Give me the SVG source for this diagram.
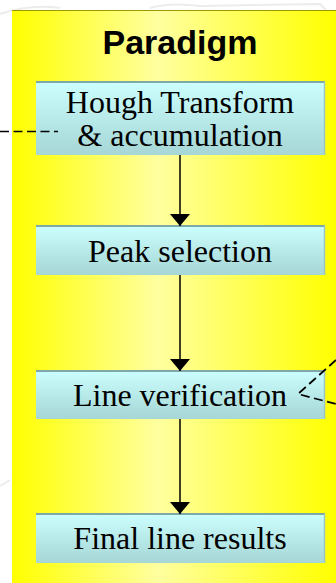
<svg xmlns="http://www.w3.org/2000/svg" width="336" height="583" viewBox="0 0 336 583">
  <defs>
    <linearGradient id="panelGrad" x1="0" y1="0" x2="1" y2="0">
      <stop offset="0" stop-color="#ffff00"/>
      <stop offset="0.45" stop-color="#ffffa0"/>
      <stop offset="1" stop-color="#ffff00"/>
    </linearGradient>
    <linearGradient id="boxGrad" x1="0" y1="0" x2="0" y2="1">
      <stop offset="0" stop-color="#ccffff"/>
      <stop offset="1" stop-color="#a6d6d6"/>
    </linearGradient>
    <marker id="arrow" viewBox="0 0 12 20" refX="12" refY="10" markerWidth="12" markerHeight="20" markerUnits="userSpaceOnUse" orient="auto">
      <path d="M0,0 L12,10 L0,20 Z" fill="#000"/>
    </marker>
  </defs>
  <style>
    .box { fill: url(#boxGrad); }
    .boxTop { stroke: #7fa8a8; stroke-width: 2; }
    .boxRight { stroke: #9cc4c4; stroke-width: 1.5; }
    .label { font-family: "Liberation Serif", "Times New Roman", serif; font-size: 32px; fill: #000; text-anchor: middle; }
    .title { font-family: "Liberation Sans", Arial, sans-serif; font-size: 34px; font-weight: bold; fill: #000; text-anchor: middle; }
    .flow { stroke: #000; stroke-width: 1.5; fill: none; marker-end: url(#arrow); }
    .dash { stroke: #000; stroke-width: 1.7; fill: none; stroke-dasharray: 9 4.5; }
    .ghost { stroke: #ececec; stroke-width: 2; fill: none; }
  </style>
  <rect width="336" height="583" fill="#ffffff"/>
  <g id="background-decor">
    <path class="ghost" d="M0,14 Q30,4 60,8"/>
    <path class="ghost" d="M150,8 Q170,2 200,6 L320,4 L326,10"/>
    <path class="ghost" d="M0,486 L10,480"/>
  </g>
  <g id="panel">
    <rect x="12" y="10" width="324" height="573" fill="url(#panelGrad)"/>
    <line x1="12" y1="10.5" x2="336" y2="10.5" stroke="#9a9a00" stroke-width="1"/>
    <text class="title" x="180" y="54">Paradigm</text>
  </g>
  <g id="node-hough">
    <rect class="box" x="36" y="81" width="289" height="74"/>
    <line class="boxTop" x1="36" y1="82" x2="325" y2="82"/>
    <line class="boxRight" x1="324.5" y1="82" x2="324.5" y2="155"/>
    <text class="label" x="180" y="113">Hough Transform</text>
    <text class="label" x="180" y="146">&amp; accumulation</text>
  </g>
  <g id="node-peak">
    <rect class="box" x="36" y="225" width="289" height="50"/>
    <line class="boxTop" x1="36" y1="226" x2="325" y2="226"/>
    <line class="boxRight" x1="324.5" y1="226" x2="324.5" y2="275"/>
    <text class="label" x="180" y="262">Peak selection</text>
  </g>
  <g id="node-verify">
    <rect class="box" x="36" y="370" width="289" height="49"/>
    <line class="boxTop" x1="36" y1="371" x2="325" y2="371"/>
    <line class="boxRight" x1="324.5" y1="371" x2="324.5" y2="419"/>
    <text class="label" x="180" y="406">Line verification</text>
  </g>
  <g id="node-final">
    <rect class="box" x="36" y="513" width="289" height="50"/>
    <line class="boxTop" x1="36" y1="514" x2="325" y2="514"/>
    <line class="boxRight" x1="324.5" y1="514" x2="324.5" y2="563"/>
    <text class="label" x="180" y="549">Final line results</text>
  </g>
  <g id="connectors">
    <line class="flow" x1="180" y1="155" x2="180" y2="226"/>
    <line class="flow" x1="180" y1="275" x2="180" y2="371"/>
    <line class="flow" x1="180" y1="419" x2="180" y2="514"/>
    <line class="dash" x1="0" y1="131.5" x2="58" y2="131.5"/>
    <path class="dash" d="M336,360 L298,394 L336,404"/>
  </g>
</svg>
